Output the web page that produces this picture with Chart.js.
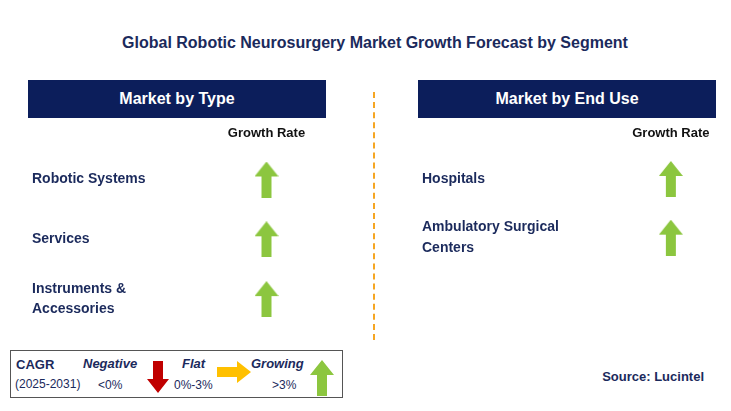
<!DOCTYPE html>
<html><head><meta charset="utf-8">
<script src="https://cdn.jsdelivr.net/npm/chart.js@4"></script>
<style>
body{margin:0;width:731px;height:411px;background:#fff;position:relative;font-family:"Liberation Sans",Arial,sans-serif;color:#1B2A5C;overflow:hidden}
.abs{position:absolute}
.title{left:0;width:750px;top:34px;text-align:center;font-weight:bold;font-size:16px;color:#1B2A5C}
.hdr{background:#0C1E5B;color:#fff;font-weight:bold;font-size:16px;text-align:center;line-height:38px;top:80px;height:38px;width:298px}
.dash{left:373px;top:92px;height:248px;border-left:2px dashed #F5A623}
.legend{left:10px;top:350px;width:331px;height:46px;border:1.5px solid #555}
.legend span{position:absolute;font-size:12px}
</style></head><body>
<div class="abs title">Global Robotic Neurosurgery Market Growth Forecast by Segment</div>
<div class="abs hdr" style="left:28px">Market by Type</div>
<div class="abs hdr" style="left:418px">Market by End Use</div>
<div class="abs dash"></div>
<div class="abs" style="left:28px;top:126px;width:298px;height:216px"><canvas id="c1"></canvas></div>
<div class="abs" style="left:418px;top:126px;width:298px;height:154px"><canvas id="c2"></canvas></div>
<div class="abs legend">
<span style="left:5px;top:6px;font-weight:bold;font-size:13px">CAGR</span>
<span style="left:4px;top:26px">(2025-2031)</span>
<span style="left:72px;top:5px;font-weight:bold;font-style:italic;font-size:13px">Negative</span>
<span style="left:87px;top:27px">&lt;0%</span>
<svg class="abs" style="left:136px;top:10px" width="22" height="32"><polygon points="6,0 16,0 16,18 22,18 11,32 0,18 6,18" fill="#C00000"/></svg>
<span style="left:171px;top:5px;font-weight:bold;font-style:italic;font-size:13px">Flat</span>
<span style="left:163px;top:27px">0%-3%</span>
<svg class="abs" style="left:206px;top:10px" width="34" height="22"><polygon points="0,6 20,6 20,0 34,11 20,22 20,16 0,16" fill="#FFC000"/></svg>
<span style="left:240px;top:5px;font-weight:bold;font-style:italic;font-size:13px">Growing</span>
<span style="left:261px;top:27px">&gt;3%</span>
</div>
<div class="abs" style="right:27px;top:369px;font-weight:bold;font-size:13px">Source: Lucintel</div>
<script>
const typeSegments=["Robotic Systems","Services",["Instruments &","Accessories"]];
const typeGrowth=["up","up","up"];
const endUseSegments=["Hospitals",["Ambulatory Surgical","Centers"]];
const endUseGrowth=["up","up"];

function arrowImg(){const c=document.createElement('canvas');c.width=24;c.height=36;const g=c.getContext('2d');
g.fillStyle='#8CC63F';g.beginPath();g.moveTo(12,0);g.lineTo(24,15);g.lineTo(17,15);g.lineTo(17,36);g.lineTo(7,36);g.lineTo(7,15);g.lineTo(0,15);g.closePath();g.fill();return c;}
const img=arrowImg();
function make(id,cats,growth,yw){
 new Chart(document.getElementById(id),{type:'scatter',
 data:{datasets:[{data:cats.map((c,i)=>({x:'Growth Rate',y:i})).filter((d,i)=>growth[i]==='up'),pointStyle:img,pointRadius:12}]},
 options:{responsive:true,maintainAspectRatio:false,animation:false,plugins:{legend:{display:false},tooltip:{enabled:false}},
 layout:{padding:{left:4}},
 scales:{x:{type:'category',labels:['Growth Rate'],position:'top',offset:true,grid:{display:false},border:{display:false},
   ticks:{color:'#111',font:{family:'Liberation Sans',size:13,weight:'bold'},padding:0}},
  y:{type:'category',labels:cats,offset:true,grid:{display:false},border:{display:false},
   afterFit(s){s.width=yw;},
   ticks:{crossAlign:'far',padding:0,color:'#1B2A5C',font:{family:'Liberation Sans',size:14,weight:'bold',lineHeight:1.45}}}}}});
}
make('c1',typeSegments,typeGrowth,188);
make('c2',endUseSegments,endUseGrowth,236);
const l=document.createElement('canvas');l.width=24;l.height=36;l.style.cssText='position:absolute;left:310px;top:360px';l.getContext('2d').drawImage(img,0,0);document.body.appendChild(l);
</script>
</body></html>
